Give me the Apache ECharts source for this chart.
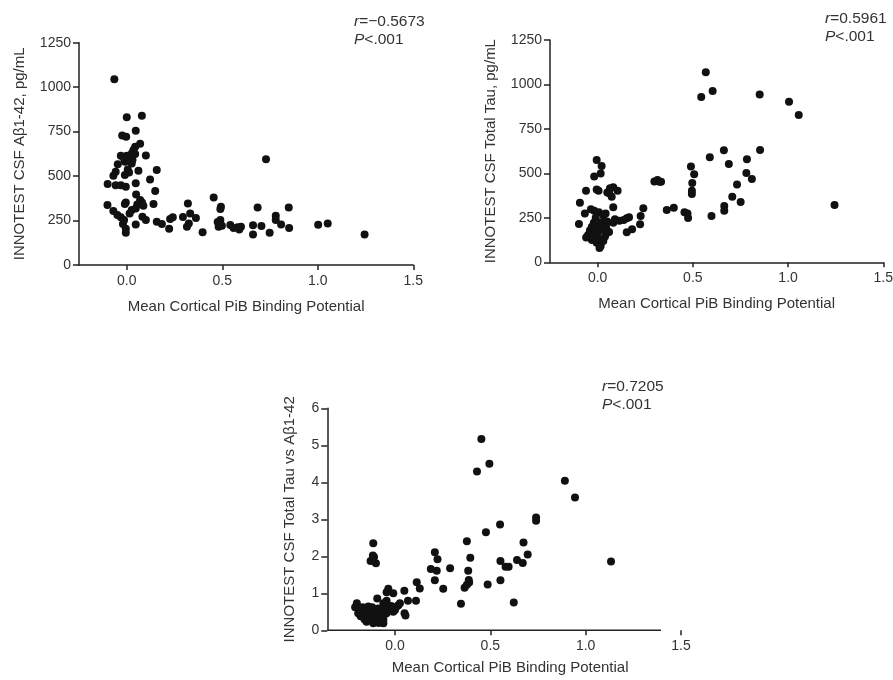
<!DOCTYPE html>
<html>
<head>
<meta charset="utf-8">
<script src="https://cdn.jsdelivr.net/npm/echarts@6/dist/echarts.min.js"></script>
<style>
  html, body { margin: 0; padding: 0; background: #fff; }
  #chart { width: 893px; height: 680px; }
</style>
</head>
<body>
<div id="chart"></div>
<script>
// ---------- data ----------
var xTickValues = [0, 0.5, 1.0, 1.5];
var xAxisTitle = 'Mean Cortical PiB Binding Potential';
var yTitles = ['INNOTEST CSF A\u03b21-42, pg/mL', 'INNOTEST CSF Total Tau, pg/mL', 'INNOTEST CSF Total Tau vs A\u03b21-42'];
var statR = ['\u22120.5673', '0.5961', '0.7205'];
var statP = ['<.001', '<.001', '<.001'];

// Panel A: Abeta1-42 (pg/mL) vs mean cortical PiB BP
var abeta = [
  [-0.065,1045],[0.0,831],[0.079,839],[0.047,755],[-0.024,728],[-0.003,721],[0.07,682],[0.044,665],
  [0.035,646],[0.026,627],[0.1,616],[-0.031,614],[0.0,614],[0.023,609],[0.044,624],[-0.009,581],
  [0.026,571],[-0.047,566],[-0.058,524],[-0.07,502],[0.005,537],[-0.01,506],[0.061,530],[0.157,534],
  [0.122,481],[-0.1,455],[-0.058,449],[-0.031,449],[-0.005,440],[0.047,459],[0.149,416],[0.049,397],
  [0.07,365],[0.08,352],[0.087,333],[-0.005,352],[-0.01,343],[-0.101,337],[0.14,343],[0.026,309],
  [0.047,318],[-0.07,303],[-0.049,281],[-0.031,268],[-0.014,253],[0.082,272],[0.1,253],[0.047,228],
  [-0.005,204],[-0.005,182],[0.157,243],[0.184,230],[0.227,258],[0.241,268],[0.222,204],[0.294,270],
  [0.32,346],[0.332,290],[0.325,234],[0.315,215],[0.362,264],[0.397,184],[0.455,380],[0.493,328],
  [0.49,315],[0.49,253],[0.476,242],[0.481,215],[0.498,221],[0.542,225],[0.559,208],[0.58,212],
  [0.598,215],[0.589,200],[0.661,223],[0.661,172],[0.705,219],[0.685,324],[0.729,594],[0.748,182],
  [0.78,277],[0.78,253],[0.808,228],[0.848,324],[0.85,208],[1.002,227],[1.052,234],[1.245,172],
  [0.012,520],[0.03,590],[-0.015,600],[0.015,290],[0.055,340],[-0.02,230]
];

// Panel B: Total tau (pg/mL) vs mean cortical PiB BP
var tau = [
  [0.568,1068],[0.544,929],[0.604,963],[0.851,944],[1.005,903],[1.056,828],[0.663,630],[0.853,632],
  [0.589,590],[0.689,553],[0.784,579],[0.781,502],[0.81,468],[0.732,438],[0.707,369],[0.751,339],
  [0.665,317],[0.665,290],[0.598,260],[1.244,322],[0.49,538],[0.507,495],[0.497,446],[0.495,403],
  [0.495,384],[0.456,281],[0.472,275],[0.475,249],[0.298,455],[0.314,463],[0.325,453],[0.333,453],
  [0.363,294],[0.4,307],[0.24,304],[0.226,260],[0.223,214],[0.181,186],[0.153,169],[0.165,253],
  [0.153,247],[0.137,238],[0.114,234],[0.105,403],[0.082,422],[0.065,416],[0.051,392],[0.074,369],
  [0.061,388],[0.082,309],[0.091,242],[0.082,223],[-0.005,575],[0.021,542],[0.016,500],[-0.018,482],
  [-0.005,410],[0.005,403],[-0.061,403],[-0.093,335],[-0.067,275],[-0.035,298],[-0.018,290],[0.007,281],
  [0.03,264],[0.042,275],[-0.098,215],[-0.06,140],[-0.04,160],[-0.02,183],[0.0,203],[0.02,225],
  [0.044,203],[0.047,165],[0.039,145],[0.016,92],[-0.005,110],[-0.03,125],[-0.05,153],[-0.02,223],
  [-0.01,250],[-0.04,180],[-0.02,153],[0.0,163],[0.03,183],[0.01,80],[0.05,230],[0.045,190],
  [-0.03,200],[0.01,130],[0.03,120],[0.06,170],[-0.01,180]
];

// Panel C: Total tau / Abeta1-42 ratio vs mean cortical PiB BP
var ratio = [
  [0.453,5.17],[0.495,4.5],[0.43,4.29],[0.891,4.04],[0.944,3.59],[0.74,3.05],[0.74,2.96],[0.551,2.86],
  [0.477,2.65],[0.377,2.41],[0.674,2.37],[0.696,2.05],[0.67,1.82],[0.64,1.9],[0.553,1.87],[0.58,1.72],
  [0.596,1.72],[0.553,1.35],[0.623,0.75],[0.486,1.24],[0.395,1.96],[0.384,1.61],[0.387,1.36],[0.377,1.23],
  [0.365,1.15],[0.389,1.29],[0.346,0.72],[0.289,1.68],[0.253,1.12],[0.209,2.11],[0.223,1.92],[0.188,1.66],
  [0.219,1.61],[0.209,1.35],[1.133,1.86],[-0.114,2.35],[-0.116,2.02],[-0.128,1.87],[-0.1,1.81],[-0.11,1.98],
  [0.114,1.3],[0.13,1.13],[0.11,0.8],[0.049,1.07],[0.068,0.8],[0.05,0.46],[0.055,0.4],[0.026,0.73],
  [0.018,0.68],[-0.035,1.12],[-0.044,1.03],[-0.009,1.0],[-0.093,0.86],[-0.044,0.8],[-0.053,0.64],[-0.032,0.6],
  [-0.061,0.73],[-0.2,0.73],[-0.209,0.62],[-0.184,0.55],[-0.167,0.46],[-0.149,0.37],[-0.132,0.46],[-0.114,0.55],
  [-0.096,0.37],[-0.079,0.46],[-0.132,0.28],[-0.149,0.23],[-0.114,0.19],[-0.061,0.28],[-0.044,0.46],[-0.026,0.55],
  [0.009,0.64],[-0.009,0.5],[-0.158,0.59],[-0.14,0.64],[-0.088,0.59],[-0.061,0.19],[-0.193,0.46],[-0.07,0.5],
  [-0.18,0.38],[-0.16,0.3],[-0.12,0.35],[-0.1,0.28],[-0.08,0.3],[-0.06,0.38],[-0.17,0.62],[-0.12,0.62],
  [-0.1,0.45],[-0.05,0.55],[-0.02,0.66],[0.0,0.55],[-0.085,0.2],[-0.14,0.5]
];

// axis-line extent of panel C (its x axis line stops short of the 1.5 tick)
var ratioAxisLine = [[-0.355, 0], [1.395, 0]];

// ---------- chart ----------
var FONT = '"Liberation Sans", Arial, sans-serif';
var TXT = '#333';
var AX = '#222';

function xAx(gi, min, showLine) {
  return {
    type: 'value', gridIndex: gi, min: min, max: 1.5,
    name: xAxisTitle, nameLocation: 'middle', nameGap: gi === 2 ? 30 : 34,
    nameTextStyle: { fontFamily: FONT, fontSize: 15, color: TXT, padding: gi === 2 ? [0,0,0,12] : 0 },
    axisLine: { show: showLine, onZero: false, lineStyle: { color: AX, width: 1.5 } },
    axisTick: { show: true, length: 5, customValues: xTickValues, lineStyle: { color: AX, width: 1.5 } },
    axisLabel: { customValues: xTickValues, margin: 9, fontFamily: FONT, fontSize: 14, color: TXT,
      formatter: function (v) { return v.toFixed(1); } },
    splitLine: { show: false }
  };
}
function yAx(gi, max, interval, gap) {
  return {
    type: 'value', gridIndex: gi, min: 0, max: max, interval: interval,
    name: yTitles[gi], nameLocation: 'middle', nameGap: gap, nameRotate: 90,
    nameTextStyle: { fontFamily: FONT, fontSize: 15, color: TXT },
    axisLine: { show: true, onZero: false, lineStyle: { color: AX, width: 1.5 } },
    axisTick: { show: true, length: 6, lineStyle: { color: AX, width: 1.5 } },
    axisLabel: { margin: 8, fontFamily: FONT, fontSize: 14, color: TXT,
      formatter: function (v) { return String(v); } },
    splitLine: { show: false }
  };
}
function stat(i, x, y) {
  return {
    type: 'text', left: x, top: y,
    style: {
      text: '{i|r}=' + statR[i] + '\n{i|P}' + statP[i],
      font: '15.5px ' + FONT, fill: TXT, lineHeight: 18,
      rich: { i: { fontStyle: 'italic', font: 'italic 15.5px ' + FONT, fill: TXT } }
    }
  };
}
var dot = { symbol: 'circle', symbolSize: 8, itemStyle: { color: '#111', opacity: 1 } };

var option = {
  backgroundColor: '#fff',
  animation: false,
  grid: [
    { left: 79, top: 42.7, width: 334.3, height: 222.3, outerBoundsMode: 'none', containLabel: false },
    { left: 550, top: 40, width: 333.3, height: 222.3, outerBoundsMode: 'none', containLabel: false },
    { left: 327.3, top: 408.3, width: 353.7, height: 222, outerBoundsMode: 'none', containLabel: false }
  ],
  xAxis: [ xAx(0, -0.25, true), xAx(1, -0.25, true), xAx(2, -0.355, false) ],
  yAxis: [ yAx(0, 1250, 250, 52), yAx(1, 1250, 250, 52), yAx(2, 6, 1, 30) ],
  series: [
    Object.assign({ type: 'scatter', xAxisIndex: 0, yAxisIndex: 0, data: abeta }, dot),
    Object.assign({ type: 'scatter', xAxisIndex: 1, yAxisIndex: 1, data: tau }, dot),
    Object.assign({ type: 'scatter', xAxisIndex: 2, yAxisIndex: 2, data: ratio }, dot),
    { type: 'line', xAxisIndex: 2, yAxisIndex: 2, data: ratioAxisLine, symbol: 'none', silent: true,
      lineStyle: { color: AX, width: 1.5 }, z: 1 }
  ],
  graphic: [ stat(0, 354, 13), stat(1, 825, 10), stat(2, 602, 378) ]
};

var chart = echarts.init(document.getElementById('chart'), null, { renderer: 'canvas' });
chart.setOption(option);
</script>
</body>
</html>
